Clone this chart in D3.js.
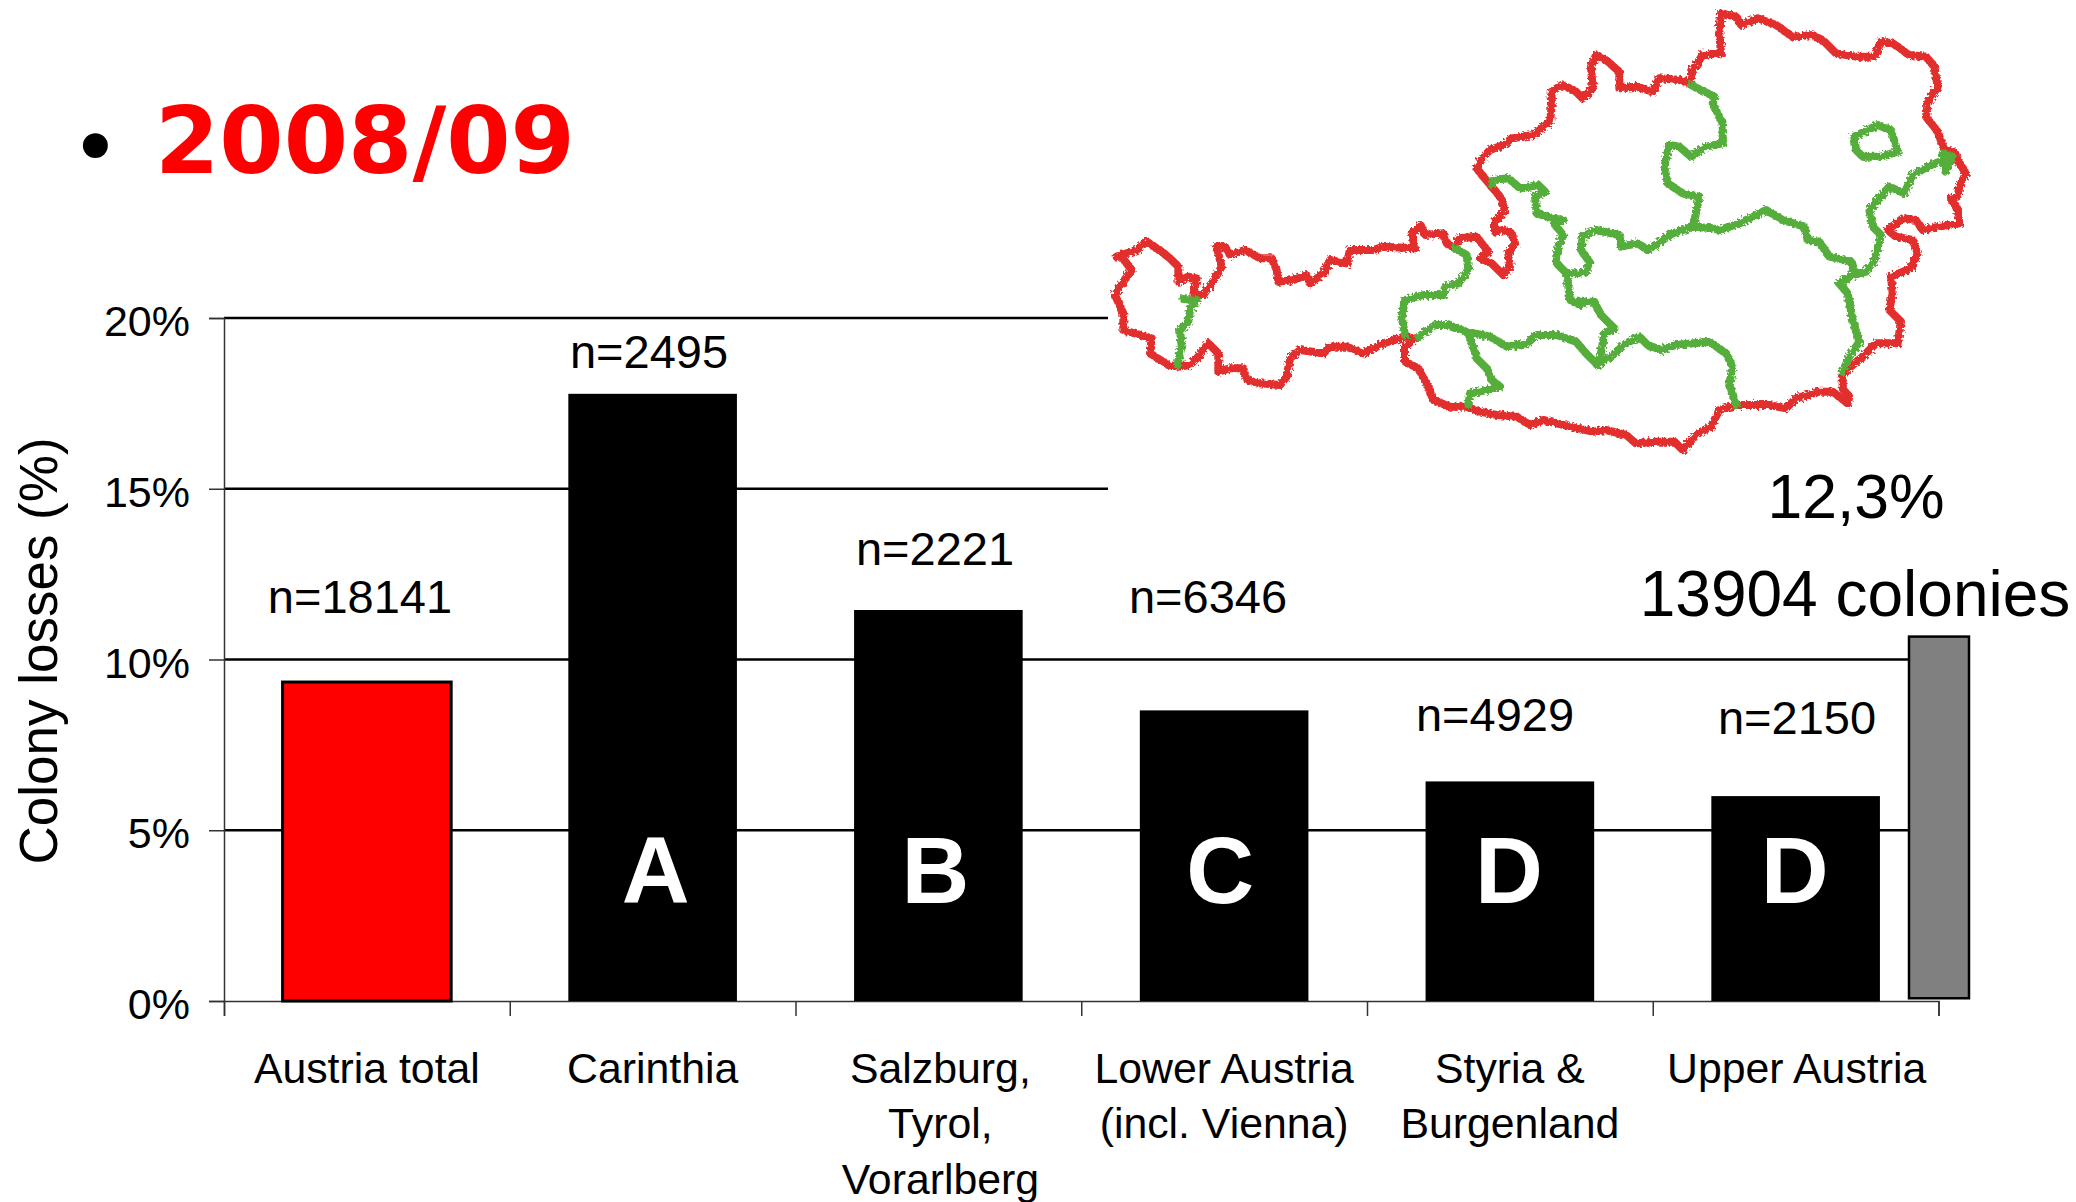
<!DOCTYPE html>
<html>
<head>
<meta charset="utf-8">
<script src="https://cdn.jsdelivr.net/npm/d3@7"></script>
<style>
    body { margin: 0; background: #fff; }
    svg { display: block; }
    text { font-family: "Liberation Sans", sans-serif; fill: #000; }
    .axis path, .axis line { stroke: #333; stroke-width: 1.5; }
</style>
</head>
<body>
<svg width="2076" height="1202"></svg>
<script>
const width = 2076;
const height = 1202;

// chart data
const regions = ["Austria total", "Carinthia", "Salzburg,|Tyrol,|Vorarlberg", "Lower Austria|(incl. Vienna)", "Styria &|Burgenland", "Upper Austria"];
const losses = [9.34, 17.78, 11.45, 8.51, 6.43, 6.0];
const sampleSizes = ["n=18141", "n=2495", "n=2221", "n=6346", "n=4929", "n=2150"];
const groupLetters = ["", "A", "B", "C", "D", "D"];
const yTicks = [0, 5, 10, 15, 20];
const greyBarValue = 10.7;

// map outline (map units)
const east = pts => pts.map(([x, y]) => [x + 1458, y]);

const outerBorder = [
    [80,770],[140,750],[170,725],[215,755],[240,775],[265,800],[265,845],[295,830],[320,835],[310,885],
    [340,885],[375,835],[395,800],[380,740],[405,740],[420,765],[465,750],[510,775],[545,775],[560,810],
    [565,845],[610,840],[650,825],[660,850],[700,820],[720,780],[770,790],[780,750],[850,750],[880,740],
    [975,745],[965,700],[992,675],[1005,705],[1060,700],[1070,730],[1095,745],[1105,715],[1160,710],
    [1195,755],[1170,775],[1205,790],[1240,825],[1260,800],[1255,760],[1275,730],[1265,700],[1240,690],
    [1215,695],[1215,665],[1245,630],[1230,590],[1205,560],[1180,530],[1160,505],[1180,470],[1200,450],
    [1240,435],[1265,415],[1330,405],[1380,365],[1385,320],[1385,275],[1415,255],[1450,270],
    ...east([[0,275],[20,295],[50,265],[45,200],[60,165],[90,180],[130,215],[130,265],[180,260],[230,275],
    [250,235],[310,240],[340,250],[350,210],[380,165],[435,160],[430,100],[435,40],[480,50],[495,75],
    [545,55],[600,75],[650,110],[710,105],[745,125],[780,160],[840,170],[895,170],[915,125],[950,130],
    [1000,165],[1050,170],[1075,200],[1085,260],[1055,310],[1050,350],[1085,395],[1105,450],[1135,455],
    [1150,490],[1170,520],[1150,560],[1145,590],[1125,595],[1145,630],[1150,670],[1090,680],[1040,690],
    [1020,660],[980,655],[935,690],[960,710],[1010,720],[1025,760],[1005,805],[945,830],[950,880],
    [940,930],[975,965],[965,1030],[900,1030],[860,1070],[800,1120],[800,1165],[820,1190],[815,1210],
    [770,1175],[730,1175],[660,1195],[630,1225],[580,1215],[480,1215],[430,1230],[405,1280],[365,1300],
    [320,1350],[295,1325],[240,1325],[180,1330],[150,1305],[90,1290],[50,1295]]),
    [1440,1280],[1360,1260],[1320,1275],[1280,1250],[1220,1245],[1170,1235],[1130,1220],[1080,1220],
    [1030,1200],[1010,1150],[985,1105],[945,1085],[945,1040],[975,1015],[945,1010],[880,1030],[820,1060],
    [770,1040],[720,1040],[700,1060],[630,1050],[600,1075],[590,1130],[570,1155],[510,1150],[470,1140],
    [460,1105],[420,1105],[385,1115],[385,1060],[355,1030],[325,1070],[300,1095],[265,1100],[235,1095],
    [180,1060],[185,1015],[100,990],[100,940],[75,885],[100,845],[125,810],[95,770],[80,770]
];

const innerBorders = [
    [[280,897],[320,900],[300,930],[295,965],[270,990],[275,1040],[262,1095]],
    [[1095,745],[1130,765],[1135,810],[1105,850],[1065,860],[1060,885],[1000,885],[945,900],[935,950],[945,1005]],
    [[985,1010],[1035,975],[1075,975],[1130,995],[1200,1010],[1250,1040],[1310,1030],[1340,1005],[1400,1005],
        ...east([[0,1025],[30,1060],[65,1095],[110,1065],[150,1030],[190,1010],[215,1035],[255,1050],[300,1035],
        [400,1025],[450,1060],[470,1100],[460,1150],[480,1215]])],
    [[1135,1000],[1150,1040],[1160,1075],[1190,1105],[1205,1140],[1230,1160],[1190,1170],[1140,1180],[1135,1215]],
    [[1205,555],[1210,540],[1255,535],[1290,565],[1345,555],[1365,575],[1335,590],[1340,640],[1390,655],[1420,660],
        [1395,675],[1420,705],[1405,740],[1400,790],[1430,820],
        ...east([[0,820],[30,815],[40,785],[15,750],[20,710],[60,690],[130,705],[135,740],[185,730],[215,750],[290,700],[350,680]])],
    [[1430,820],[1440,900],[1470,915],
        ...east([[0,905],[55,905],[75,945],[115,985],[85,1000],[75,1060],[65,1095]])],
    east([[345,255],[415,290],[410,310],[440,370],[440,430],[390,440],[345,470],[310,440],[280,435],[265,500],
        [275,550],[320,580],[370,590],[360,640],[350,680],[410,685],[430,690],[490,670],[570,630],[620,660],
        [685,680],[695,720],[730,725],[760,770],[825,785],[835,820],[790,850]]),
    east([[1130,470],[1100,460],[1110,515],[1130,470],[1065,495],[1010,525],[985,580],[940,560],[905,600],[880,630],
        [890,680],[915,705],[895,780],[870,815],[830,825],[790,850],[815,880],[830,960],[850,1025],[820,1070],[800,1115]]),
    east([[835,410],[905,375],[945,390],[965,455],[915,470],[860,470],[840,450],[835,410]])
];

const svg = d3.select("svg");

// x scales: bands for the bars, linear for the tick marks between them
const xBand = d3.scaleBand()
    .domain(regions)
    .range([224, 1938.5])
    .paddingInner(0.41)
    .paddingOuter(0.205);

const xTick = d3.scaleLinear()
    .domain([0, regions.length])
    .range([224, 1938.5]);

const yScale = d3.scaleLinear()
    .domain([0, 20])
    .range([1001, 318]);

// gridlines, the upper two stop at the map
svg.append("g")
    .selectAll("line")
    .data(yTicks.filter(d => d > 0))
    .join("line")
    .attr("x1", 224)
    .attr("x2", d => d >= 15 ? 1108 : 1909)
    .attr("y1", d => yScale(d))
    .attr("y2", d => yScale(d))
    .attr("stroke", "#000")
    .attr("stroke-width", 2.5);

// y axis
const yAxis = svg.append("g")
    .attr("class", "axis")
    .attr("transform", "translate(224,0)")
    .call(d3.axisLeft(yScale).tickValues(yTicks).tickSize(15).tickFormat(d => d + "%"));

yAxis.selectAll("text")
    .attr("x", -34)
    .attr("dy", "0.41em")
    .style("font-size", "43px");

// x axis
svg.append("g")
    .attr("class", "axis")
    .attr("transform", "translate(0,1001)")
    .call(d3.axisBottom(xTick).tickValues(d3.range(regions.length + 1)).tickSize(15).tickFormat(""));

// bars
svg.append("g")
    .selectAll("rect")
    .data(regions)
    .join("rect")
    .attr("x", d => xBand(d))
    .attr("y", (d, i) => yScale(losses[i]))
    .attr("width", xBand.bandwidth())
    .attr("height", (d, i) => yScale(0) - yScale(losses[i]))
    .attr("fill", (d, i) => i === 0 ? "#ff0000" : "#000")
    .attr("stroke", "#000")
    .attr("stroke-width", (d, i) => i === 0 ? 3 : 0);

// grey bar on the right
svg.append("rect")
    .attr("x", 1909)
    .attr("y", yScale(greyBarValue) + 1)
    .attr("width", 60)
    .attr("height", yScale(0.08) - yScale(greyBarValue) - 1)
    .attr("fill", "#808080")
    .attr("stroke", "#000")
    .attr("stroke-width", 2.5);

// letters inside the bars
const letterShift = [0, 3, -3, -4, -1, -1];
svg.append("g")
    .selectAll("text")
    .data(regions)
    .join("text")
    .attr("x", (d, i) => xBand(d) + xBand.bandwidth() / 2 + letterShift[i])
    .attr("y", 903)
    .attr("text-anchor", "middle")
    .style("font-size", "94px")
    .style("font-weight", "bold")
    .style("fill", "#fff")
    .text((d, i) => groupLetters[i]);

// n labels
const nLabelX = [360, 649, 935, 1208, 1495, 1797];
const nLabelY = [613, 368, 565, 613, 731, 734];
svg.append("g")
    .selectAll("text")
    .data(sampleSizes)
    .join("text")
    .attr("x", (d, i) => nLabelX[i])
    .attr("y", (d, i) => nLabelY[i])
    .attr("text-anchor", "middle")
    .style("font-size", "47px")
    .text(d => d);

// category labels
const labelShift = [0, 0, 2, 0, 0, 1];
const labels = svg.append("g")
    .selectAll("text")
    .data(regions)
    .join("text")
    .attr("x", (d, i) => xBand(d) + xBand.bandwidth() / 2 + labelShift[i])
    .attr("y", 1082.5)
    .attr("text-anchor", "middle")
    .style("font-size", "42.8px");

labels.selectAll("tspan")
    .data(d => d.split("|"))
    .join("tspan")
    .attr("x", function () { return this.parentNode.getAttribute("x"); })
    .attr("dy", (d, i) => i === 0 ? 0 : 55.5)
    .text(d => d);

// y axis label
svg.append("text")
    .attr("transform", "rotate(-90)")
    .attr("x", -651)
    .attr("y", 57)
    .attr("text-anchor", "middle")
    .style("font-size", "53px")
    .text("Colony losses (%)");

// title
svg.append("text")
    .attr("x", 70)
    .attr("y", 177)
    .style("font-family", "'DejaVu Sans'")
    .style("font-size", "86px")
    .text("•");

svg.append("text")
    .attr("x", 155)
    .attr("y", 173)
    .style("font-family", "'DejaVu Sans'")
    .style("font-size", "92.5px")
    .style("font-weight", "bold")
    .style("fill", "#ff0000")
    .text("2008/09");

// map caption
svg.append("text")
    .attr("x", 1856)
    .attr("y", 518)
    .attr("text-anchor", "middle")
    .style("font-size", "62.5px")
    .text("12,3%");

svg.append("text")
    .attr("x", 1855)
    .attr("y", 616)
    .attr("text-anchor", "middle")
    .style("font-size", "64px")
    .text("13904 colonies");

// map
const mapX = d3.scaleLinear().domain([0, 3000]).range([1090, 2090]);
const mapY = d3.scaleLinear().domain([0, 1500]).range([0, 500]);

const mapLine = d3.line()
    .x(d => mapX(d[0]))
    .y(d => mapY(d[1]));

// rough edge on the traced lines
const rough = svg.append("defs")
    .append("filter")
    .attr("id", "rough")
    .attr("filterUnits", "userSpaceOnUse")
    .attr("x", 1090)
    .attr("y", 0)
    .attr("width", 986)
    .attr("height", 480);

rough.append("feTurbulence")
    .attr("type", "fractalNoise")
    .attr("baseFrequency", 0.4)
    .attr("numOctaves", 2)
    .attr("seed", 4)
    .attr("result", "noise");

rough.append("feDisplacementMap")
    .attr("in", "SourceGraphic")
    .attr("in2", "noise")
    .attr("scale", 6);

const map = svg.append("g")
    .attr("filter", "url(#rough)")
    .attr("fill", "none")
    .attr("stroke-width", 8)
    .attr("stroke-linejoin", "round")
    .attr("stroke-linecap", "round");

map.append("path")
    .datum(outerBorder)
    .attr("stroke", "#e32d2d")
    .attr("d", mapLine);

map.selectAll(".inner")
    .data(innerBorders)
    .join("path")
    .attr("class", "inner")
    .attr("stroke", "#55ae3a")
    .attr("d", mapLine);
</script>
</body>
</html>
